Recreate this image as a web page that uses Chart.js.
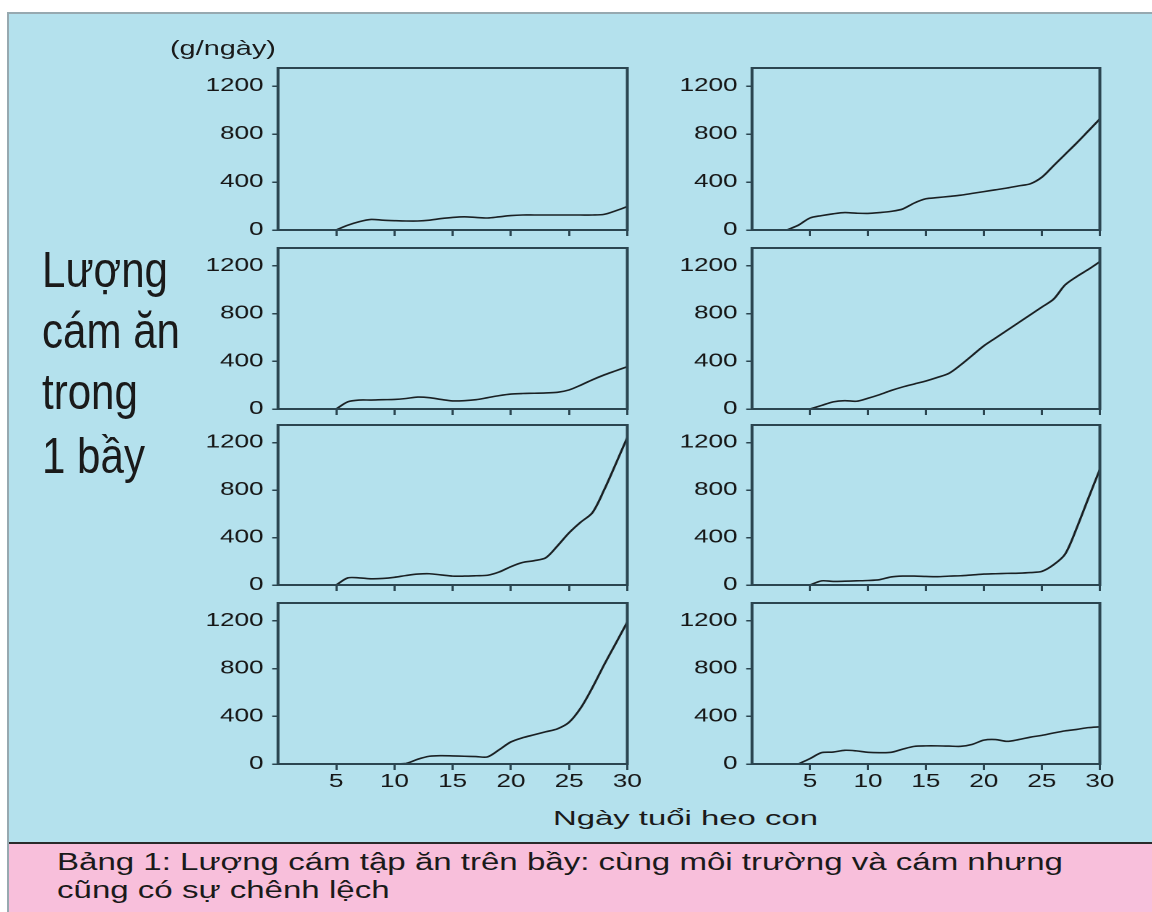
<!DOCTYPE html>
<html><head><meta charset="utf-8">
<script src="https://cdn.jsdelivr.net/npm/chart.js@4.4.1/dist/chart.umd.min.js"></script>
<style>
html,body{margin:0;padding:0;background:#fff;}
#page{position:relative;width:1152px;height:912px;overflow:hidden;background:#fff;font-family:"Liberation Sans",Arial,sans-serif;}
#frame{position:absolute;left:7px;top:12px;right:0;bottom:0;background:#b4e1ed;border-left:2px solid #97a9b0;border-top:2px solid #97a9b0;}
#caption{position:absolute;left:9px;top:842px;right:0;bottom:0;background:#f8bfdb;border-top:2px solid #2a2a2a;}
.t{position:absolute;white-space:nowrap;transform-origin:0 50%;color:#1a1a1a;}
.panel{position:absolute;}
.panel canvas{transform-origin:0 0;display:block;}
</style></head>
<body><div id="page"><div id="frame"></div><div id="caption"></div></div>
<script>
// ---------- data ----------
const days = [1,2,3,4,5,6,7,8,9,10,11,12,13,14,15,16,17,18,19,20,21,22,23,24,25,26,27,28,29,30];
const xTicks = [5,10,15,20,25,30];
const yTicks = [0,400,800,1200];
const bay1 = [null,null,null,null,0,40,70,88,82,78,75,75,82,95,105,110,105,100,110,120,125,125,125,125,125,125,125,130,160,195];
const bay2 = [null,null,0,40,100,120,135,145,140,138,145,155,175,225,260,270,280,290,305,320,335,350,368,385,440,535,630,725,825,925];
const bay3 = [null,null,null,null,0,60,75,75,78,80,88,100,95,80,68,70,78,95,112,125,130,132,135,140,160,200,245,285,320,355];
const bay4 = [null,null,null,null,0,30,60,70,65,90,120,155,185,210,235,265,300,370,450,530,595,660,725,790,855,920,1040,1110,1170,1235];
const bay5 = [null,null,null,null,0,60,60,52,55,65,80,92,95,85,75,75,78,82,110,155,190,205,230,330,440,530,610,800,1020,1245];
const bay6 = [null,null,null,null,0,35,30,32,35,38,45,68,75,75,72,70,75,78,85,92,95,98,100,105,115,170,260,480,730,975];
const bay7 = [null,null,null,null,null,null,null,null,null,0,5,40,65,70,68,65,62,60,120,185,220,245,270,295,350,470,640,830,1010,1190];
const bay8 = [null,null,null,0,45,95,100,115,110,98,95,98,125,148,152,152,150,148,165,200,205,190,205,225,240,260,278,290,305,312];
const panels = [bay1,bay2,bay3,bay4,bay5,bay6,bay7,bay8];
const unitLabel = "(g/ngày)";
const yTitleLines = ["Lượng","cám ăn","trong","1 bầy"];
const xTitle = "Ngày tuổi heo con";
const captionLines = ["Bảng 1: Lượng cám tập ăn trên bầy: cùng môi trường và cám nhưng","cũng có sự chênh lệch"];

// ---------- layout ----------
const STRETCH = 1.45;
const colLeft = [278,752], colRight = [628,1100];
const rowTop = [68,248,425,603], rowBottom = [230,409,585,764];
const PAD_L = 110, PAD_R = 25, PAD_T = 22, PAD_B = 40;
const page = document.getElementById('page');

Chart.defaults.font.family = '"Liberation Sans", Arial, sans-serif';

const boxPlugin = {
  id:'box',
  afterDraw(chart){
    const a = chart.chartArea, c = chart.ctx;
    c.save(); c.strokeStyle = '#2b4550'; c.lineWidth = 2;
    c.strokeRect(a.left, a.top, a.right-a.left, a.bottom-a.top);
    c.restore();
  }
};

panels.forEach((vals, idx) => {
  const col = idx % 2, row = Math.floor(idx/2);
  const bx0 = colLeft[col], bx1 = colRight[col], by0 = rowTop[row], by1 = rowBottom[row];
  const visW = bx1 - bx0 + PAD_L + PAD_R;
  const H = by1 - by0 + PAD_T + PAD_B;
  const W = visW / STRETCH;
  const div = document.createElement('div');
  div.className = 'panel';
  div.style.left = (bx0 - PAD_L) + 'px';
  div.style.top = (by0 - PAD_T) + 'px';
  div.style.width = visW + 'px';
  div.style.height = H + 'px';
  const cv = document.createElement('canvas');
  cv.width = W; cv.height = H;
  cv.style.width = W + 'px'; cv.style.height = H + 'px';
  cv.style.transform = 'scaleX(' + STRETCH + ')';
  div.appendChild(cv);
  page.appendChild(div);
  const pts = [];
  vals.forEach((v,i) => { if (v !== null) pts.push({x: days[i], y: v}); });
  new Chart(cv, {
    type:'line',
    data:{datasets:[{data:pts, borderColor:'#1a2023', borderWidth:1.6, pointRadius:0, tension:0.3, fill:false, clip:false}]},
    options:{
      responsive:false, animation:false, devicePixelRatio:2,
      layout:{padding:{left:0, right:PAD_R/STRETCH, top:PAD_T, bottom:0}},
      plugins:{legend:{display:false}, tooltip:{enabled:false}},
      scales:{
        x:{type:'linear', min:0, max:30,
           afterBuildTicks: s => { s.ticks = xTicks.map(v => ({value:v})); },
           afterFit: s => { s.height = PAD_B; },
           grid:{drawOnChartArea:false, drawTicks:true, tickLength:6, color:'#2b4550', lineWidth:1.5},
           border:{display:false},
           ticks:{display: row === 3, font:{size:18}, color:'#161616', padding:1, maxRotation:0, autoSkip:false,
                  callback: v => String(v)}},
        y:{type:'linear', min:0, max:1350,
           afterBuildTicks: s => { s.ticks = yTicks.map(v => ({value:v})); },
           afterFit: s => { s.width = PAD_L/STRETCH; },
           grid:{drawOnChartArea:false, drawTicks:true, tickLength:4, color:'#2b4550', lineWidth:1.5},
           border:{display:false},
           ticks:{font:{size:18}, color:'#161616', padding:6, autoSkip:false, callback: v => String(v)}}
      }
    },
    plugins:[boxPlugin]
  });
});

// ---------- text ----------
function addText(txt, left, centerY, size, extra){
  const el = document.createElement('div');
  el.className = 't';
  el.textContent = txt;
  el.style.fontSize = size + 'px';
  el.style.lineHeight = size + 'px';
  el.style.left = left + 'px';
  el.style.top = (centerY - size/2) + 'px';
  if (extra) Object.assign(el.style, extra);
  page.appendChild(el);
  return el;
}
function fitK(el, targetW){ const w = el.getBoundingClientRect().width; return targetW / w; }

const u = addText(unitLabel, 170, 47, 21);
u.style.transform = 'scaleX(' + fitK(u, 106) + ')';

const bigEls = yTitleLines.map((s, i) => addText(s, 42, [270, 331, 392, 456][i], 50));
const kBig = fitK(bigEls[1], 138);
bigEls.forEach(e => e.style.transform = 'scaleX(' + kBig + ')');

const xt = addText(xTitle, 553, 817, 21);
xt.style.transform = 'scaleX(' + fitK(xt, 265) + ')';

const capEls = captionLines.map((s, i) => addText(s, 57, [862, 890][i], 23));
const kCap = fitK(capEls[0], 1006);
capEls.forEach(e => e.style.transform = 'scaleX(' + kCap + ')');
</script>
</body></html>
